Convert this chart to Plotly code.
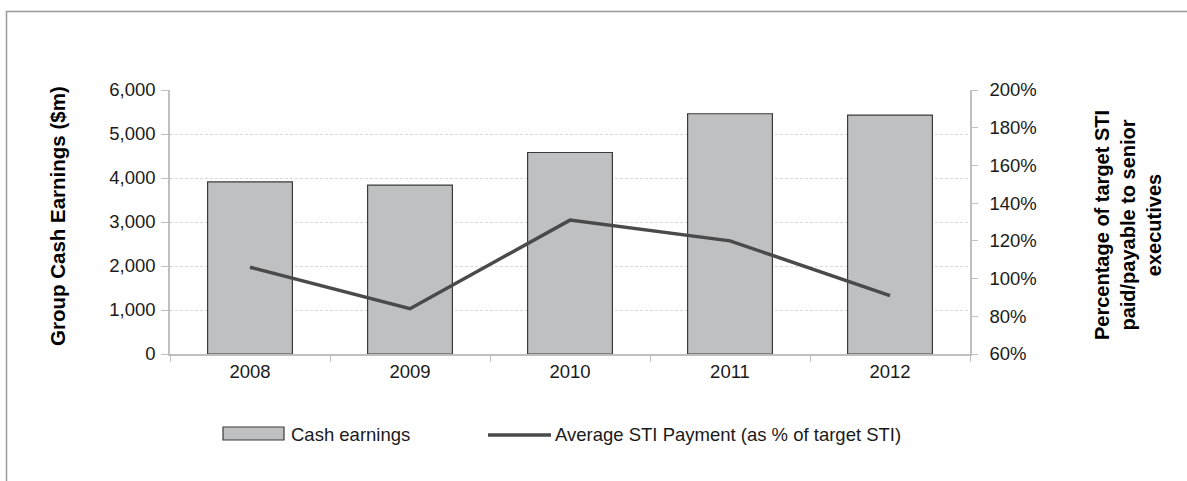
import plotly.graph_objects as go

years = ["2008", "2009", "2010", "2011", "2012"]
cash_earnings = [3910, 3840, 4580, 5460, 5430]
sti_pct = [106, 84, 131, 120, 91]
bar_name = "Cash earnings"
line_name = "Average STI Payment (as % of target STI)"

FONT = "Liberation Sans, Arial, sans-serif"
AXIS_GRAY = "#bfbfbf"
BAR_FILL = "#bfc0c2"
BAR_EDGE = "#3a3a3a"
LINE_COL = "#4a4a4a"

fig = go.Figure()
fig.add_trace(go.Bar(
    x=years, y=cash_earnings, name=bar_name,
    marker=dict(color=BAR_FILL, line=dict(color=BAR_EDGE, width=1.2)),
    yaxis="y", showlegend=False,
))
fig.add_trace(go.Scatter(
    x=years, y=sti_pct, name=line_name,
    mode="lines", line=dict(color=LINE_COL, width=3.5),
    yaxis="y2", showlegend=False,
))

W, H = 1187, 481
L, T = 170, 90
pw, ph = 800, 264
R, B = W - L - pw, H - T - ph

def px_x(p):
    return (p - L) / pw

def px_y(p):
    return (T + ph - p) / ph

fig.update_layout(
    width=W, height=H,
    margin=dict(l=L, r=R, t=T, b=B, autoexpand=False),
    paper_bgcolor="white", plot_bgcolor="white",
    font=dict(family=FONT, size=18, color="#1a1a1a"),
    bargap=0.47,
    showlegend=False,
    xaxis=dict(
        type="category", range=[-0.5, 4.5],
        showline=True, linecolor=AXIS_GRAY, linewidth=1.5,
        ticks="outside", tickson="boundaries", ticklen=6, tickcolor=AXIS_GRAY,
        tickfont=dict(size=18.5), showgrid=False,
    ),
    yaxis=dict(
        range=[0, 6000], dtick=1000, tickformat=",",
        showline=True, linecolor=AXIS_GRAY, linewidth=1.5,
        ticks="outside", ticklen=7, tickcolor=AXIS_GRAY,
        showgrid=True, gridcolor="#d9d9d9", griddash="3px,2px", gridwidth=1,
        zeroline=False, tickfont=dict(size=18.5), ticklabelstandoff=2,
    ),
    yaxis2=dict(
        overlaying="y", side="right", range=[60, 200], dtick=20, ticksuffix="%",
        showline=True, linecolor=AXIS_GRAY, linewidth=1.5,
        ticks="outside", ticklen=6, tickcolor=AXIS_GRAY,
        showgrid=False, zeroline=False, tickfont=dict(size=18.5),
        ticklabelstandoff=8,
    ),
    annotations=[
        dict(text="<b>Group Cash Earnings ($m)</b>", textangle=-90,
             xref="paper", yref="paper", x=px_x(57), y=px_y(216),
             xanchor="center", yanchor="middle", showarrow=False,
             font=dict(size=20.5, color="#000000")),
        dict(text="<b>Percentage of target STI<br>paid/payable to senior<br>executives</b>",
             textangle=-90,
             xref="paper", yref="paper", x=px_x(1128), y=px_y(225),
             xanchor="center", yanchor="middle", showarrow=False,
             font=dict(size=20, color="#000000")),
        # legend labels
        dict(text=bar_name, xref="paper", yref="paper",
             x=px_x(289), y=px_y(434), xanchor="left", yanchor="middle",
             showarrow=False, font=dict(size=18.5, color="#1a1a1a")),
        dict(text=line_name, xref="paper", yref="paper",
             x=px_x(553), y=px_y(434), xanchor="left", yanchor="middle",
             showarrow=False, font=dict(size=18.5, color="#1a1a1a")),
    ],
    shapes=[
        dict(type="line", xref="paper", yref="paper",
             x0=px_x(6), x1=px_x(1200), y0=px_y(11.5), y1=px_y(11.5),
             line=dict(color="#9a9a9a", width=1.5)),
        dict(type="line", xref="paper", yref="paper",
             x0=px_x(6.5), x1=px_x(6.5), y0=px_y(11), y1=px_y(490),
             line=dict(color="#9a9a9a", width=1.5)),
        # legend keys
        dict(type="rect", xref="paper", yref="paper",
             x0=px_x(223), x1=px_x(284), y0=px_y(440), y1=px_y(427),
             fillcolor=BAR_FILL, line=dict(color=BAR_EDGE, width=1.2)),
        dict(type="line", xref="paper", yref="paper",
             x0=px_x(488), x1=px_x(551), y0=px_y(435), y1=px_y(435),
             line=dict(color=LINE_COL, width=3.5)),
    ],
)

fig.write_html("out.html", config={"displayModeBar": False},
               post_script="document.body.style.margin='0';")
